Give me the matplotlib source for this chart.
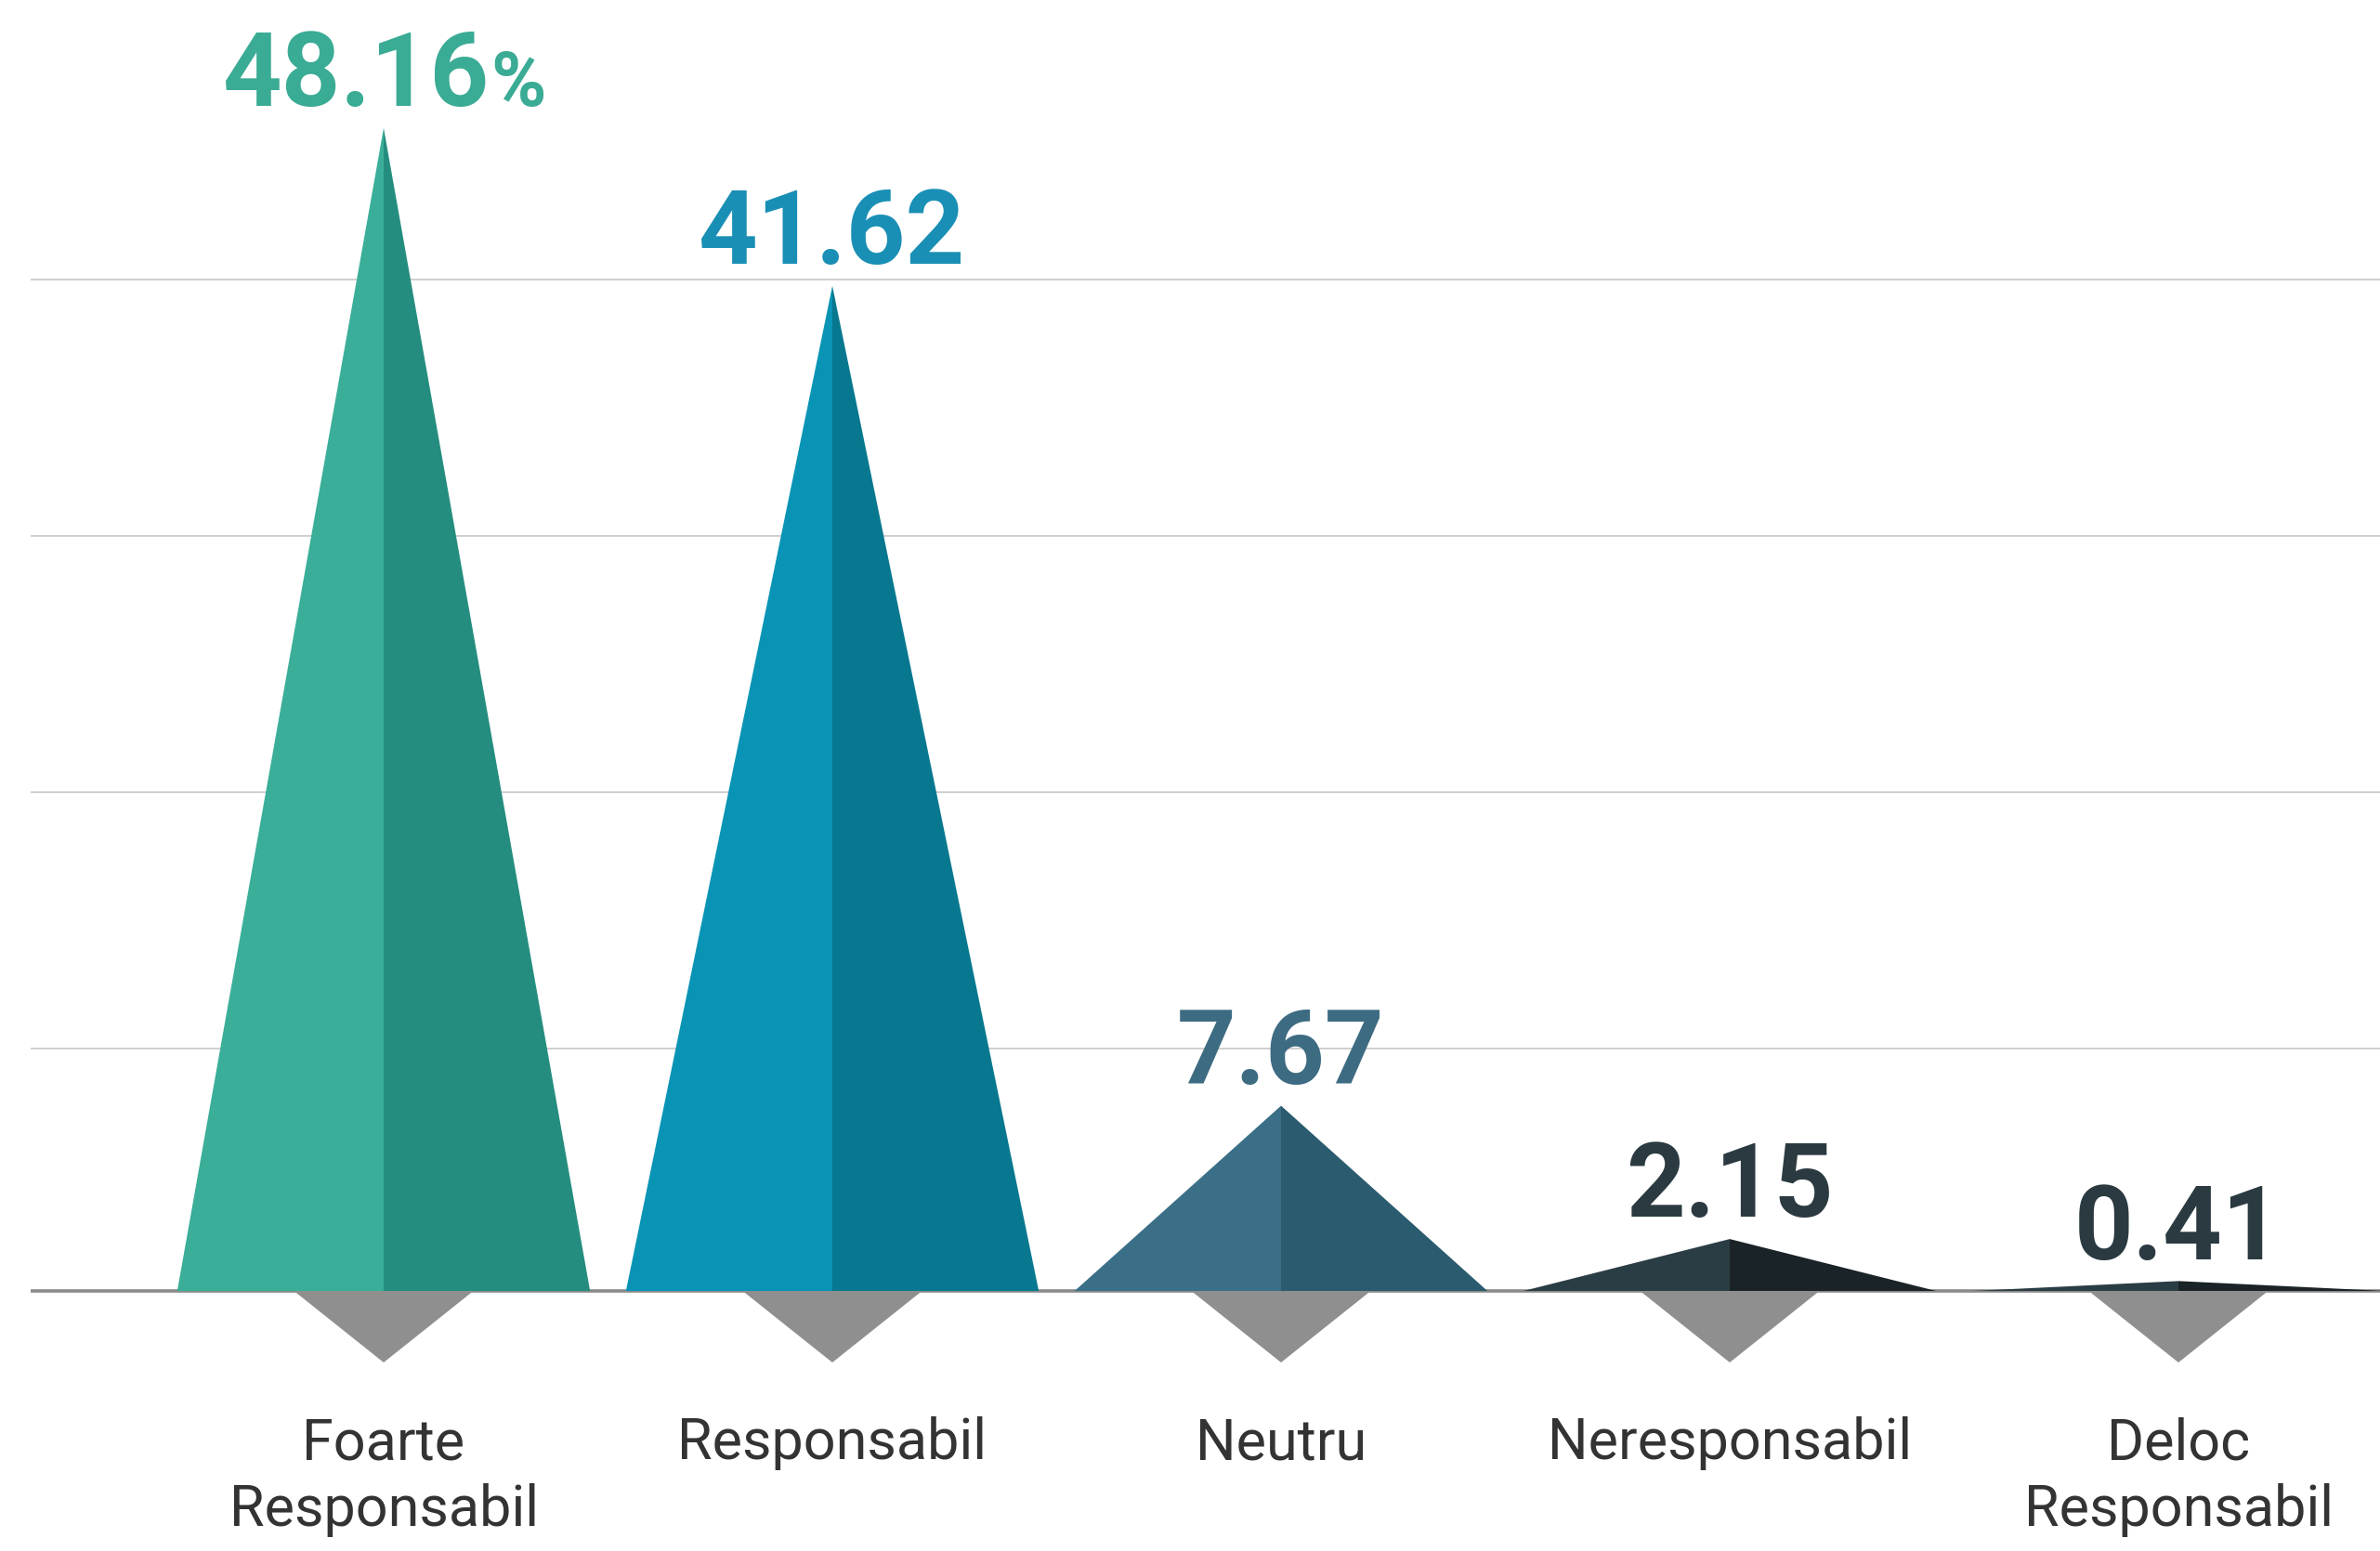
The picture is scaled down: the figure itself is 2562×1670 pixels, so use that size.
import numpy as np
import matplotlib
matplotlib.use("Agg")
import matplotlib.pyplot as plt

# data
categories = ["Foarte\nResponsabil", "Responsabil", "Neutru", "Neresponsabil", "Deloc\nResponsabil"]
values = [48.16, 41.62, 7.67, 2.15, 0.41]
value_labels = ["48.16", "41.62", "7.67", "2.15", "0.41"]

light_cols = ["#3aae99", "#0994b5", "#3a6f87", "#2b3d44", "#2b3d44"]
dark_cols = ["#248d7f", "#07788f", "#2a5b6e", "#1a2327", "#1a2327"]
text_cols = ["#3aab94", "#1a8fb5", "#3d6b82", "#2a3a40", "#2a3a40"]

plt.rcParams["font.family"] = ["Roboto", "DejaVu Sans"]

W, H = 2562, 1670
fig = plt.figure(figsize=(W / 100, H / 100), dpi=100)
ax = fig.add_axes([33 / W, 0, 1 - 33 / W, 1])

px_x = 483.0   # px per category step
px_y = 26.0    # px per percent
x0 = 413.0     # px centre of first category
base = 1390.0  # px of baseline from top

ax.set_xlim((33 - x0) / px_x, (W - x0) / px_x)
ax.set_ylim(-(H - base) / px_y, base / px_y)
ax.axis("off")

# gridlines
grid_levels = np.arange(1, 5) * 10.62 - 0.6
for g in grid_levels:
    ax.axhline(g, color="#cfcfcf", linewidth=1.4, zorder=0)
ax.axhline(0, color="#8a8a8a", linewidth=2.6, zorder=1)

half_w = 0.46
gray_w = 0.2
gray_d = 77 / px_y

for i, v in enumerate(values):
    ax.fill([i - half_w, i, i], [0, v, 0], color=light_cols[i], linewidth=0, zorder=2)
    ax.fill([i, i, i + half_w], [0, v, 0], color=dark_cols[i], linewidth=0, zorder=2)
    ax.fill([i - gray_w, i + gray_w, i], [0, 0, -gray_d], color="#8f8f8f", linewidth=0, zorder=2)

# value labels
texts = []
for i, v in enumerate(values):
    t = ax.annotate(value_labels[i], (i, v), xytext=(0, 17), textcoords="offset points",
                    ha="center", va="baseline", fontsize=80, fontweight="bold",
                    color=text_cols[i], zorder=3)
    texts.append(t)

# percent sign after first number, re-centre the pair
fig.canvas.draw()
r = fig.canvas.get_renderer()
pct = ax.annotate("%", (0, values[0]), xytext=(0, 17), textcoords="offset points",
                  ha="left", va="baseline", fontsize=58, fontweight="bold",
                  color=text_cols[0], zorder=3)
wn = texts[0].get_window_extent(r).width
wp = pct.get_window_extent(r).width
shift = wp / 2 * 72 / 100
texts[0].set_position((-shift, 17))
pct.set_position((wn / 2 * 72 / 100 - shift + 1, 17))

# category labels under the gray markers
for i, lab in enumerate(categories):
    ax.text(i, -5.2, lab, ha="center", va="top", fontsize=44, color="#333333",
            linespacing=1.3, zorder=3)

fig.savefig("out.png", dpi=100, facecolor="white")
